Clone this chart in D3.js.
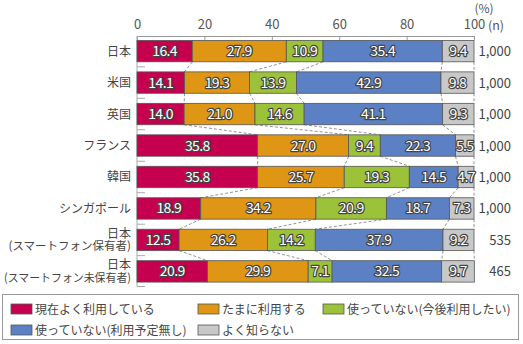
<!doctype html>
<html>
  <head>
    <meta charset="utf-8">
    <script src="https://cdn.jsdelivr.net/npm/d3@7"></script>
    <style>
      body { margin: 0; background: #fff; }
      svg { font-family: "Noto Sans CJK JP", "Noto Sans", sans-serif; }
      .axis text { fill: #555; font-size: 13px; font-family: "Noto Sans CJK JP", sans-serif; }
      .axis path, .axis line { stroke: #999; }
      .val {
        fill: #fff;
        stroke: #444;
        stroke-width: 2.4px;
        paint-order: stroke;
        stroke-linejoin: round;
        font-size: 14px;
        letter-spacing: -0.6px;
      }
    </style>
  </head>
  <body>
    <svg width="523" height="344"></svg>
    <script>
      // rows, top to bottom (second line of a label after "|")
      const categories = ["日本", "米国", "英国", "フランス", "韓国", "シンガポール",
        "日本|(スマートフォン保有者)", "日本|(スマートフォン未保有者)"];
      const sampleSizes = ["1,000", "1,000", "1,000", "1,000", "1,000", "1,000", "535", "465"];

      const seriesNames = ["現在よく利用している", "たまに利用する", "使っていない(今後利用したい)",
        "使っていない(利用予定無し)", "よく知らない"];
      const seriesColors = ["#c5004f", "#de9614", "#9cc23a", "#5c80c4", "#c8c8c8"];

      const useOften = [16.4, 14.1, 14.0, 35.8, 35.8, 18.9, 12.5, 20.9];
      const useSometimes = [27.9, 19.3, 21.0, 27.0, 25.7, 34.2, 26.2, 29.9];
      const notYetWant = [10.9, 13.9, 14.6, 9.4, 19.3, 20.9, 14.2, 7.1];
      const notUsingNoPlan = [35.4, 42.9, 41.1, 22.3, 14.5, 18.7, 37.9, 32.5];
      const dontKnow = [9.4, 9.8, 9.3, 5.5, 4.7, 7.3, 9.2, 9.7];

      const xTicks = [0, 20, 40, 60, 80, 100];

      const seriesValues = [useOften, useSometimes, notYetWant, notUsingNoPlan, dontKnow];
      const rows = categories.map((c, i) => {
        const r = { cat: c, n: sampleSizes[i] };
        seriesValues.forEach((vals, k) => { r["s" + k] = vals[i]; });
        return r;
      });
      const keys = seriesNames.map((d, k) => "s" + k);
      const stacked = d3.stack().keys(keys)(rows);

      const svg = d3.select("svg");
      const x = d3.scaleLinear().domain([0, 100]).range([137, 474]);
      const y = d3.scaleBand().domain(categories).range([36, 286.5])
        .paddingInner(0.32).paddingOuter(0.14);
      const bw = y.bandwidth();

      // top axis
      svg.append("g").attr("class", "axis")
        .attr("transform", "translate(0,36)")
        .call(d3.axisTop(x).tickValues(xTicks).tickSizeInner(-4).tickSizeOuter(0).tickPadding(7));
      svg.append("text").attr("x", 488).attr("y", 30).attr("fill", "#555")
        .attr("font-size", 12.5).text("(n)");
      svg.append("text").attr("x", 484).attr("y", 13).attr("fill", "#555")
        .attr("font-size", 12).attr("text-anchor", "middle").text("(%)");

      // left axis line with ticks between rows
      const leftAxis = svg.append("g").attr("stroke", "#aaa");
      leftAxis.append("line").attr("x1", 137).attr("x2", 137)
        .attr("y1", 36).attr("y2", y.range()[1]);
      const sep = categories.map(c => y(c) + bw + (y.step() - bw) / 2);
      sep[sep.length - 1] = y.range()[1];
      leftAxis.selectAll(".sep").data(sep).enter().append("line")
        .attr("x1", 137).attr("x2", 145)
        .attr("y1", d => d).attr("y2", d => d);

      // dashed connectors between consecutive bars
      const conn = [];
      for (let i = 0; i < categories.length - 1; i++) {
        stacked.forEach(s => {
          conn.push({ a: s[i][1], b: s[i + 1][1], y1: y(categories[i]) + bw, y2: y(categories[i + 1]) });
        });
      }
      svg.append("g").selectAll("line").data(conn).enter().append("line")
        .attr("x1", d => x(d.a)).attr("x2", d => x(d.b))
        .attr("y1", d => d.y1).attr("y2", d => d.y2)
        .attr("stroke", "#777").attr("stroke-width", 0.8).attr("stroke-dasharray", "3,2");

      // bars
      const layers = svg.append("g").selectAll("g").data(stacked).enter().append("g")
        .attr("fill", (d, k) => seriesColors[k]);
      layers.selectAll("rect").data(d => d).enter().append("rect")
        .attr("x", d => x(d[0]))
        .attr("y", d => y(d.data.cat))
        .attr("width", d => x(d[1]) - x(d[0]))
        .attr("height", bw)
        .attr("stroke", "#555").attr("stroke-width", 0.8);

      layers.selectAll("text").data((d) => d.map(p => ({ p: p, v: p.data[d.key] })))
        .enter().append("text").attr("class", "val")
        .attr("x", d => (x(d.p[0]) + x(d.p[1])) / 2)
        .attr("y", d => y(d.p.data.cat) + bw / 2 + 5)
        .attr("text-anchor", "middle")
        .text(d => d3.format(".1f")(d.v));

      // category labels, long second lines squeezed to fit the margin
      const labels = svg.append("g").selectAll("text").data(categories).enter().append("text")
        .attr("x", 131).attr("text-anchor", "end")
        .attr("fill", "#444").attr("font-size", 12);
      labels.each(function (c) {
        const parts = c.split("|");
        const cy = y(c) + bw / 2;
        const t = d3.select(this);
        parts.forEach((p, j) => {
          const off = parts.length === 1 ? 4.5 : (j === 0 ? -2 : 10.5);
          const ts = t.append("tspan").attr("x", 131).attr("y", cy + off).text(p);
          if (j === 1) {
            ts.attr("font-size", 11.5);
            if (ts.node().getComputedTextLength() > 127) {
              ts.attr("textLength", 127).attr("lengthAdjust", "spacingAndGlyphs");
            }
          }
        });
      });

      // sample sizes
      svg.append("g").selectAll("text").data(rows).enter().append("text")
        .attr("x", 511).attr("y", d => y(d.cat) + bw / 2 + 5)
        .attr("text-anchor", "end").attr("fill", "#444").attr("font-size", 13)
        .text(d => d.n);

      // legend
      svg.append("rect").attr("x", 2.5).attr("y", 294.5).attr("width", 516).attr("height", 45)
        .attr("fill", "#fff").attr("stroke", "#999");
      const legendPos = [[11, 309], [198, 309], [323, 309], [11, 330], [198, 330]];
      const leg = svg.append("g").selectAll("g").data(seriesNames).enter().append("g")
        .attr("transform", (d, k) => "translate(" + legendPos[k][0] + "," + legendPos[k][1] + ")");
      leg.append("rect").attr("x", 0).attr("y", -5).attr("width", 21).attr("height", 10)
        .attr("fill", (d, k) => seriesColors[k]).attr("stroke", "#555").attr("stroke-width", 0.8);
      leg.append("text").attr("x", 24).attr("y", 4.5).attr("fill", "#444")
        .attr("font-size", 12).text(d => d);
    </script>
  </body>
</html>
